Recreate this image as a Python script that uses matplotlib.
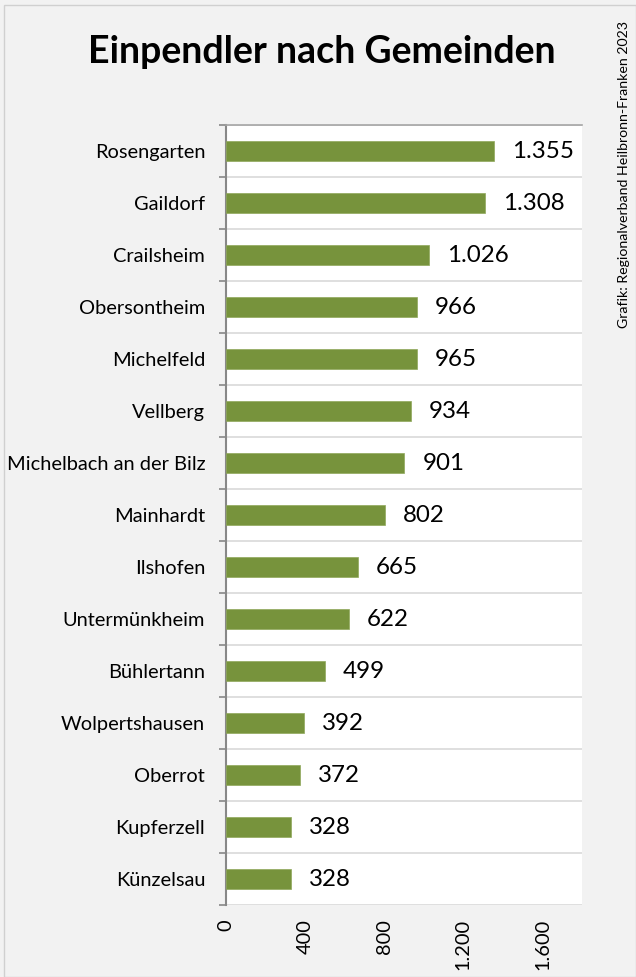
import matplotlib
matplotlib.use('Agg')
from matplotlib import pyplot as plt
from matplotlib.ticker import FuncFormatter
import numpy as np

# Gemeinden (top to bottom) and commuter counts
gemeinden = ['Rosengarten', 'Gaildorf', 'Crailsheim', 'Obersontheim', 'Michelfeld',
             'Vellberg', 'Michelbach an der Bilz', 'Mainhardt', 'Ilshofen',
             'Untermünkheim', 'Bühlertann', 'Wolpertshausen', 'Oberrot',
             'Kupferzell', 'Künzelsau']
einpendler = [1355, 1308, 1026, 966, 965, 934, 901, 802, 665, 622, 499, 392, 372, 328, 328]
xticks = [0, 400, 800, 1200, 1600]

plt.rcParams['font.family'] = ['Lato', 'DejaVu Sans']

W, H = 636, 977
fig = plt.figure(figsize=(W / 100, H / 100), dpi=100)
fig.patch.set_facecolor('#f2f2f2')

# plot area in pixel coords
left, right, top, bottom = 226, 582, 125, 905
ax = fig.add_axes([left / W, 1 - bottom / H, (right - left) / W, (bottom - top) / H])
ax.set_facecolor('white')

y = np.arange(len(gemeinden))
bar_color = '#77933c'
ax.barh(y, einpendler, height=0.4, color=bar_color, edgecolor='#8fa85a', linewidth=0.5, zorder=3)

ax.set_ylim(len(gemeinden) - 0.5, -0.5)
ax.set_xlim(0, 1800)

# gridlines between categories
for b in np.arange(-0.5, len(gemeinden) + 0.5, 1):
    ax.axhline(b, color='#d9d9d9', lw=1.2, zorder=1)

ax.set_yticks(y)
ax.set_yticklabels(gemeinden, fontsize=14.4)
ax.set_yticks(np.arange(-0.5, len(gemeinden), 1), minor=True)
ax.tick_params(axis='y', which='major', length=0, pad=15)
ax.tick_params(axis='y', which='minor', length=5, color='#888888', width=1.2)

ax.set_xticks(xticks)
ax.xaxis.set_major_formatter(FuncFormatter(lambda v, p: f'{int(v):,}'.replace(',', '.')))
ax.tick_params(axis='x', length=0, labelsize=14.4, pad=10, labelrotation=90)

for s in ['right', 'bottom']:
    ax.spines[s].set_visible(False)
ax.spines['top'].set_color('#a6a6a6')
ax.spines['top'].set_linewidth(1.2)
ax.spines['left'].set_color('#888888')
ax.spines['left'].set_linewidth(1.5)

for yi, v in zip(y, einpendler):
    ax.annotate(f'{v:,}'.replace(',', '.'), (v, yi), xytext=(13, 0), textcoords='offset points',
                va='center', ha='left', fontsize=17.4)

fig.text(322 / W, 1 - 52 / H, 'Einpendler nach Gemeinden', ha='center', va='center',
         fontsize=27, fontweight='bold')
fig.text(624 / W, 1 - 175 / H, 'Grafik: Regionalverband Heilbronn-Franken 2023',
         rotation=90, ha='center', va='center', fontsize=10.2)

# outer frame
fig.add_artist(plt.Rectangle((4 / W, 0), 1 - 4 / W, 1 - 5 / H, transform=fig.transFigure,
                             fill=False, edgecolor='#d0d0d0', lw=1))

fig.savefig('out.png', dpi=100, facecolor=fig.get_facecolor())
